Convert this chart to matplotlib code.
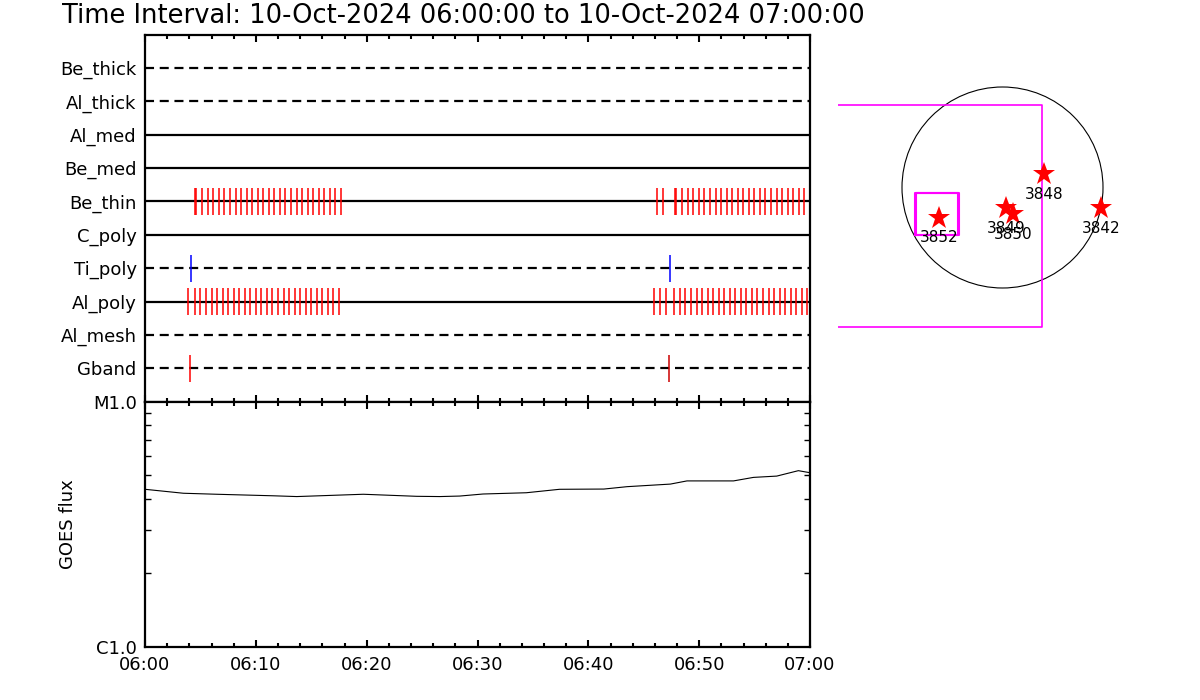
import matplotlib
matplotlib.use('Agg')
import matplotlib.pyplot as plt
from matplotlib.ticker import MultipleLocator, NullFormatter, LogLocator
from matplotlib.patches import Circle

plt.rcParams['font.family'] = ['DejaVu Sans']
plt.rcParams['lines.scale_dashes'] = False

# ---------------- data ----------------
title = "Time Interval: 10-Oct-2024 06:00:00 to 10-Oct-2024 07:00:00"

# channels, bottom (row 1) to top (row 10)
channels = ['Gband', 'Al_mesh', 'Al_poly', 'Ti_poly', 'C_poly',
            'Be_thin', 'Be_med', 'Al_med', 'Al_thick', 'Be_thick']
channel_dashed = [True, True, False, True, False,
                  False, False, False, True, True]

# event marks (minutes after 06:00)
be_thin_times = [4.55, 4.62, 5.17, 5.67, 6.17, 6.67, 7.17, 7.67, 8.17, 8.67,
                 9.17, 9.67, 10.17, 10.67, 11.17, 11.67, 12.17, 12.67, 13.17,
                 13.67, 14.17, 14.67, 15.17, 15.67, 16.17, 16.67, 17.17, 17.67,
                 46.23, 46.77, 47.82, 47.89, 48.48, 48.98, 49.48, 49.98, 50.48,
                 50.98, 51.48, 51.98, 52.48, 52.98, 53.48, 53.98, 54.48, 54.98,
                 55.48, 55.98, 56.48, 56.98, 57.48, 57.98, 58.48, 58.98, 59.48,
                 59.98]
al_poly_times = [3.91, 4.51, 5.0, 5.5, 6.0, 6.5, 7.0, 7.5, 8.0, 8.5, 9.0, 9.5,
                 10.0, 10.5, 11.0, 11.5, 12.0, 12.5, 13.0, 13.5, 14.0, 14.5,
                 15.0, 15.5, 16.0, 16.5, 17.0, 17.53,
                 45.96, 46.5, 47.01, 47.76, 48.26, 48.76, 49.26, 49.76, 50.26,
                 50.76, 51.26, 51.76, 52.26, 52.76, 53.26, 53.76, 54.26, 54.76,
                 55.26, 55.76, 56.26, 56.76, 57.26, 57.76, 58.26, 58.76, 59.26,
                 59.76]
ti_poly_times = [4.18, 47.40]
gband_times = [4.09, 47.31]
gband_colors = ['#ff0000', '#cc0000']

# GOES flux (W/m^2)
goes_t = [0, 3.46, 6.47, 11.58, 13.69, 19.7, 24.5, 26.6, 28.4, 30.5, 34.4,
          37.4, 41.4, 43.5, 47.4, 48.9, 53.1, 54.9, 57.0, 58.95, 60.0]
goes_flux = [4.39e-6, 4.23e-6, 4.19e-6, 4.13e-6, 4.10e-6, 4.19e-6, 4.11e-6,
             4.10e-6, 4.12e-6, 4.20e-6, 4.25e-6, 4.39e-6, 4.40e-6, 4.50e-6,
             4.61e-6, 4.75e-6, 4.75e-6, 4.91e-6, 4.97e-6, 5.23e-6, 5.13e-6]

x_ticks = [0, 10, 20, 30, 40, 50, 60]
x_labels = ['06:00', '06:10', '06:20', '06:30', '06:40', '06:50', '07:00']
goes_ticks = [1e-6, 1e-5]
goes_labels = ['C1.0', 'M1.0']

# solar map (arcsec)
sun_radius = 1000
ar_names = ['3852', '3849', '3850', '3848', '3842']
ar_x = [-632, 35, 101, 416, 977]
ar_y = [-300, -207, -264, 134, -207]
fov_big = [-2500, 393, -1391, 824]           # x0, x1, y0, y1
fov_small_x0 = [-871, -856]
fov_small_x1 = [-446, -431]
fov_small_y0 = [-473, -473]
fov_small_y1 = [-52, -52]

# ---------------- figure ----------------
W, H = 1200, 700
fig = plt.figure(figsize=(12, 7), dpi=100)

def fx(px):
    return px / W

def fy(py):
    return 1 - py / H

ax_left, ax_right = 145, 810
top_y0, top_y1 = 34.5, 401.7
goes_y1 = 646.7

ax1 = fig.add_axes([fx(ax_left), fy(top_y1), fx(ax_right - ax_left),
                    (top_y1 - top_y0) / H])
ax2 = fig.add_axes([fx(ax_left), fy(goes_y1), fx(ax_right - ax_left),
                    (goes_y1 - top_y1) / H])

SPW = 1.6
for a in (ax1, ax2):
    for s in a.spines.values():
        s.set_linewidth(SPW)
    a.set_xlim(0, 60)
    a.xaxis.set_major_locator(MultipleLocator(10))
    a.xaxis.set_minor_locator(MultipleLocator(2))
    a.tick_params(axis='x', which='both', direction='in', top=True,
                  bottom=True, width=1.5)
    a.tick_params(axis='x', which='major', length=4.8)
    a.tick_params(axis='x', which='minor', length=2.6)

# ---- top panel ----
ax1.set_ylim(0, 11)
rows = list(range(1, len(channels) + 1))
for r, dashed in zip(rows, channel_dashed):
    if dashed:
        ax1.plot([0, 60], [r, r], color='black', lw=1.6,
                 dashes=(6.5, 4.1), solid_capstyle='butt')
    else:
        ax1.plot([0, 60], [r, r], color='black', lw=1.6)

half = 0.4
row_of = {c: r for c, r in zip(channels, rows)}
ax1.vlines(be_thin_times, row_of['Be_thin'] - half, row_of['Be_thin'] + half,
           color='#ff0000', lw=1.1)
ax1.vlines(al_poly_times, row_of['Al_poly'] - half, row_of['Al_poly'] + half,
           color='#ff0000', lw=1.1)
ax1.vlines(ti_poly_times, row_of['Ti_poly'] - half, row_of['Ti_poly'] + half,
           color='#0000ff', lw=1.1)
ax1.vlines(gband_times, row_of['Gband'] - half, row_of['Gband'] + half,
           color=gband_colors, lw=1.1)

ax1.set_yticks(rows)
ax1.set_yticklabels(channels, fontsize=13)
ax1.tick_params(axis='y', which='both', length=0, pad=6)
ax1.xaxis.set_major_formatter(NullFormatter())

# ---- GOES panel ----
ax2.plot(goes_t, goes_flux, color='black', lw=0.8)
ax2.set_yscale('log')
ax2.set_ylim(1e-6, 1e-5)
ax2.set_yticks(goes_ticks)
ax2.set_yticklabels(goes_labels, fontsize=13)
ax2.yaxis.set_minor_locator(LogLocator(base=10, subs=range(2, 10)))
ax2.yaxis.set_minor_formatter(NullFormatter())
ax2.tick_params(axis='y', which='major', length=0, pad=6)
ax2.tick_params(axis='y', which='minor', direction='in', left=True,
                right=True, length=4.3, width=1.0)
ax2.set_xticks(x_ticks)
ax2.set_xticklabels(x_labels, fontsize=13)
ax2.tick_params(axis='x', which='major', pad=7)
ax2.text(-0.116, 0.5, 'GOES flux', rotation=90, ha='center', va='center',
         fontsize=13, transform=ax2.transAxes)

fig.text(fx(62), fy(16), title, ha='left', va='center', fontsize=18.5)

# ---- solar map ----
mx0, mx1, my0, my1 = 838, 1140, 80, 340
cx, cy, scale = 1002.5, 187.5, 9.95
axm = fig.add_axes([fx(mx0), fy(my1), fx(mx1 - mx0), (my1 - my0) / H])
axm.set_xlim((mx0 - cx) * scale, (mx1 - cx) * scale)
axm.set_ylim((cy - my1) * scale, (cy - my0) * scale)
axm.axis('off')
axm.add_patch(Circle((0, 0), sun_radius, fill=False, ec='black', lw=0.8))
bx0, bx1, by0, by1 = fov_big
axm.plot([bx0, bx1, bx1, bx0], [by1, by1, by0, by0], color='#ff00ff', lw=1.2,
         clip_on=True)
for x0, x1, y0, y1 in zip(fov_small_x0, fov_small_x1, fov_small_y0, fov_small_y1):
    axm.plot([x0, x1, x1, x0, x0], [y0, y0, y1, y1, y0], color='#ff00ff',
             lw=1.5)
axm.plot(ar_x, ar_y, linestyle='none', marker='*', color='#ff0000',
         markersize=17, markeredgewidth=0)
for name, x, y in zip(ar_names, ar_x, ar_y):
    axm.annotate(name, (x, y), xytext=(0, -14.5), textcoords='offset points',
                 ha='center', va='center', fontsize=11)

fig.savefig('out.png', dpi=100)
